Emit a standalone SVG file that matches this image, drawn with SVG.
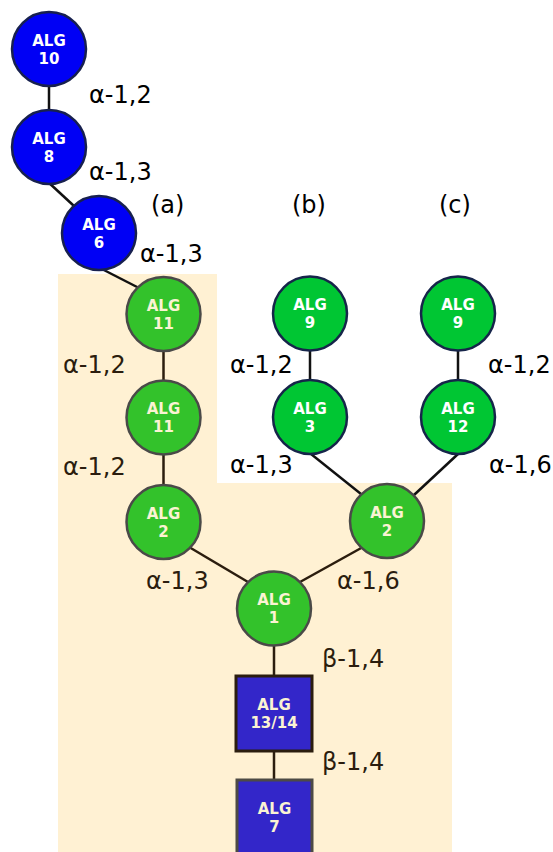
<svg xmlns="http://www.w3.org/2000/svg" width="553" height="852" viewBox="0 0 553 852">
<style>
.lbl{font-family:"DejaVu Sans",sans-serif;font-size:24px;fill:#000}
.lb{fill:#2b1d0e}
.nt{font-family:"DejaVu Sans",sans-serif;font-size:15px;font-weight:bold;text-anchor:middle}
.blue circle{fill:#0000f5;stroke:#17204f;stroke-width:2.5}
.blue text{fill:#fff}
.ga circle{fill:#33c22b;stroke:#4a4a48;stroke-width:2.5}
.ga text{fill:#fbf3d3}
.gb circle{fill:#00c633;stroke:#16254a;stroke-width:2.5}
.gb text{fill:#fff}
.bx rect{fill:#3326c9;stroke:#2b1d0e;stroke-width:3}
.bx text{fill:#fbf3d3}
#edges line{stroke-width:2.5}
.k{stroke:#111}
.b{stroke:#2b1d0e}
</style>
<rect width="553" height="852" fill="#fff"/>
<polygon points="58,274 217,274 217,483 452,483 452,852 58,852" fill="#fff1d3"/>
<g id="edges">
<line class="k" x1="49" y1="85" x2="49" y2="112"/>
<line class="k" x1="47" y1="181" x2="74" y2="206"/>
<line class="k" x1="96" y1="266" x2="139" y2="288"/>
<line class="b" x1="163.5" y1="350" x2="163.5" y2="382"/>
<line class="b" x1="163.5" y1="453" x2="163.5" y2="486"/>
<line class="k" x1="310" y1="349" x2="310" y2="382"/>
<line class="k" x1="458" y1="349" x2="458" y2="382"/>
<line class="k" x1="311" y1="454" x2="361" y2="494"/>
<line class="k" x1="458" y1="454" x2="414" y2="495"/>
<line class="b" x1="189" y1="547" x2="248" y2="582"/>
<line class="b" x1="363" y1="547" x2="300" y2="582"/>
<line class="b" x1="274" y1="645" x2="274" y2="677"/>
<line class="b" x1="274" y1="750" x2="274" y2="781"/>
</g>
<g id="n-alg10" class="blue"><circle cx="49" cy="49" r="37"/><text class="nt" x="49" y="45.5">ALG</text><text class="nt" x="49" y="63.5">10</text></g>
<g id="n-alg8" class="blue"><circle cx="49" cy="147" r="37"/><text class="nt" x="49" y="143.5">ALG</text><text class="nt" x="49" y="161.5">8</text></g>
<g id="n-alg6" class="blue"><circle cx="99" cy="233" r="37"/><text class="nt" x="99" y="229.5">ALG</text><text class="nt" x="99" y="247.5">6</text></g>
<g id="n-alg11a" class="ga"><circle cx="163.5" cy="314" r="37"/><text class="nt" x="163.5" y="310.5">ALG</text><text class="nt" x="163.5" y="328.5">11</text></g>
<g id="n-alg11b" class="ga"><circle cx="163.5" cy="417.5" r="37"/><text class="nt" x="163.5" y="414">ALG</text><text class="nt" x="163.5" y="432">11</text></g>
<g id="n-alg2l" class="ga"><circle cx="163.5" cy="522" r="37"/><text class="nt" x="163.5" y="518.5">ALG</text><text class="nt" x="163.5" y="536.5">2</text></g>
<g id="n-alg2r" class="ga"><circle cx="387" cy="521" r="37"/><text class="nt" x="387" y="517.5">ALG</text><text class="nt" x="387" y="535.5">2</text></g>
<g id="n-alg1" class="ga"><circle cx="274" cy="608.5" r="37"/><text class="nt" x="274" y="605">ALG</text><text class="nt" x="274" y="623">1</text></g>
<g id="n-alg9b" class="gb"><circle cx="310" cy="313.5" r="37"/><text class="nt" x="310" y="310">ALG</text><text class="nt" x="310" y="328">9</text></g>
<g id="n-alg3" class="gb"><circle cx="310" cy="417" r="37"/><text class="nt" x="310" y="413.5">ALG</text><text class="nt" x="310" y="431.5">3</text></g>
<g id="n-alg9c" class="gb"><circle cx="458" cy="313.5" r="37"/><text class="nt" x="458" y="310">ALG</text><text class="nt" x="458" y="328">9</text></g>
<g id="n-alg12" class="gb"><circle cx="458" cy="417" r="37"/><text class="nt" x="458" y="413.5">ALG</text><text class="nt" x="458" y="431.5">12</text></g>
<g id="n-alg1314" class="bx"><rect x="236" y="676" width="76" height="75"/><text class="nt" x="274" y="710">ALG</text><text class="nt" x="274" y="728">13/14</text></g>
<g id="n-alg7" class="bx"><rect x="237" y="780" width="75" height="76" style="stroke:#4d4a45"/><text class="nt" x="274.5" y="814">ALG</text><text class="nt" x="274.5" y="832">7</text></g>
<g id="labels">
<text class="lbl" x="89" y="103">α-1,2</text>
<text class="lbl" x="89" y="180">α-1,3</text>
<text class="lbl" x="151" y="213">(a)</text>
<text class="lbl" x="292" y="213">(b)</text>
<text class="lbl" x="439" y="213">(c)</text>
<text class="lbl" x="140" y="262">α-1,3</text>
<text class="lbl lb" x="63" y="373">α-1,2</text>
<text class="lbl lb" x="63" y="475">α-1,2</text>
<text class="lbl" x="230" y="373">α-1,2</text>
<text class="lbl" x="488" y="373">α-1,2</text>
<text class="lbl" x="230" y="473">α-1,3</text>
<text class="lbl" x="489" y="473">α-1,6</text>
<text class="lbl lb" x="146" y="589">α-1,3</text>
<text class="lbl lb" x="337" y="589">α-1,6</text>
<text class="lbl lb" x="322" y="667">β-1,4</text>
<text class="lbl lb" x="322" y="770">β-1,4</text>
</g>
</svg>
